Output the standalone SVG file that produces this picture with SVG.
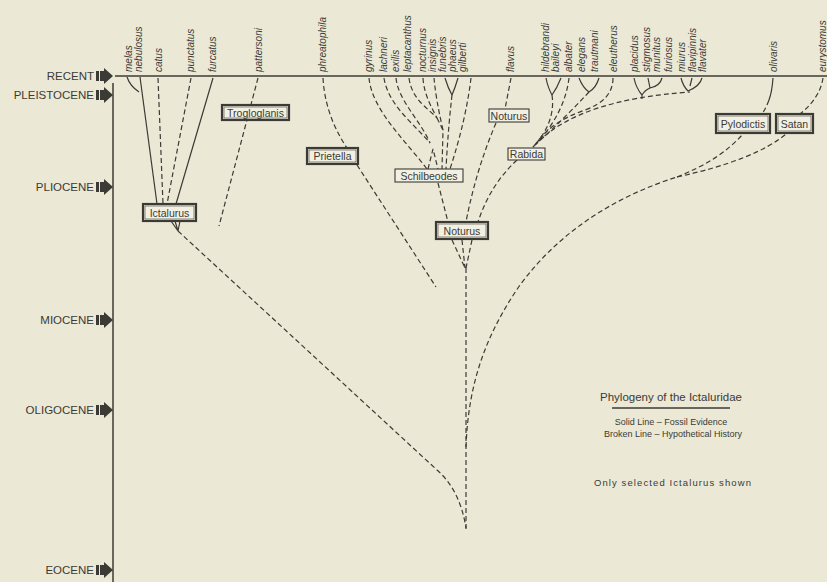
<svg xmlns="http://www.w3.org/2000/svg" width="827" height="582" viewBox="0 0 827 582">
<style>
.ink{fill:#3c3a35}
.era{font-family:"Liberation Sans",Arial,sans-serif;font-size:11.5px;fill:#3c3a35;text-anchor:end}
.sp{font-family:"Liberation Sans",Arial,sans-serif;font-size:10px;font-style:italic;fill:#3c3a35}
.s{fill:none;stroke:#3c3a35;stroke-width:1.2}
.d{fill:none;stroke:#3c3a35;stroke-width:1.2;stroke-dasharray:5 3}
.bx{fill:#f2f0e2;stroke:#3c3a35;stroke-width:2.2}
.bxi{fill:none;stroke:#3c3a35;stroke-width:0.6}
.bs{fill:#f2f0e2;stroke:#3c3a35;stroke-width:1.1}
.lbl{font-family:"Liberation Sans",Arial,sans-serif;font-size:10.5px;fill:#3c3a35;text-anchor:middle;dominant-baseline:central}
.leg{font-family:"Liberation Sans",Arial,sans-serif;fill:#3c3a35;text-anchor:middle}
</style>
<defs>
<g id="arr" class="ink"><rect x="-17" y="-5" width="3" height="10"/><polygon points="-13,-5 -9,-5 -9,-8 0,0 -9,8 -9,5 -13,5"/></g>
</defs>
<rect width="827" height="582" fill="#ebe9d6"/>

<g id="timescale">
<line x1="113" y1="83" x2="113" y2="582" stroke="#3c3a35" stroke-width="1.5"/>
<line x1="115" y1="76" x2="827" y2="76" stroke="#3c3a35" stroke-width="1.5"/>
<use href="#arr" transform="translate(113,76)"/>
<use href="#arr" transform="translate(113,95)"/>
<use href="#arr" transform="translate(113,187)"/>
<use href="#arr" transform="translate(113,320)"/>
<use href="#arr" transform="translate(113,410)"/>
<use href="#arr" transform="translate(113,570)"/>
<text class="era" x="94" y="80">RECENT</text>
<text class="era" x="94" y="99">PLEISTOCENE</text>
<text class="era" x="94" y="191">PLIOCENE</text>
<text class="era" x="94" y="324">MIOCENE</text>
<text class="era" x="94" y="414">OLIGOCENE</text>
<text class="era" x="94" y="574">EOCENE</text>
</g>

<g id="species">
<text class="sp" transform="translate(131.5,72) rotate(-90)">melas</text>
<text class="sp" transform="translate(141.5,72) rotate(-90)">nebulosus</text>
<text class="sp" transform="translate(161.5,72) rotate(-90)">catus</text>
<text class="sp" transform="translate(193.5,72) rotate(-90)">punctatus</text>
<text class="sp" transform="translate(215.5,72) rotate(-90)">furcatus</text>
<text class="sp" transform="translate(261.5,72) rotate(-90)">pattersoni</text>
<text class="sp" transform="translate(325.5,72) rotate(-90)">phreatophila</text>
<text class="sp" transform="translate(371.5,72) rotate(-90)">gyrinus</text>
<text class="sp" transform="translate(386.5,72) rotate(-90)">lachneri</text>
<text class="sp" transform="translate(398.5,72) rotate(-90)">exilis</text>
<text class="sp" transform="translate(410.5,72) rotate(-90)">leptacanthus</text>
<text class="sp" transform="translate(425.5,72) rotate(-90)">nocturnus</text>
<text class="sp" transform="translate(435.5,72) rotate(-90)">insignis</text>
<text class="sp" transform="translate(445.5,72) rotate(-90)">funebris</text>
<text class="sp" transform="translate(455.5,72) rotate(-90)">phaeus</text>
<text class="sp" transform="translate(465.5,72) rotate(-90)">gilberti</text>
<text class="sp" transform="translate(513.5,72) rotate(-90)">flavus</text>
<text class="sp" transform="translate(548.5,72) rotate(-90)">hildebrandi</text>
<text class="sp" transform="translate(558.5,72) rotate(-90)">baileyi</text>
<text class="sp" transform="translate(571.5,72) rotate(-90)">albater</text>
<text class="sp" transform="translate(584.5,72) rotate(-90)">elegans</text>
<text class="sp" transform="translate(597.5,72) rotate(-90)">trautmani</text>
<text class="sp" transform="translate(616.5,72) rotate(-90)">eleutherus</text>
<text class="sp" transform="translate(637.5,72) rotate(-90)">placidus</text>
<text class="sp" transform="translate(649.5,72) rotate(-90)">stigmosus</text>
<text class="sp" transform="translate(659.5,72) rotate(-90)">munitus</text>
<text class="sp" transform="translate(671.5,72) rotate(-90)">furiosus</text>
<text class="sp" transform="translate(684.5,72) rotate(-90)">miurus</text>
<text class="sp" transform="translate(695.5,72) rotate(-90)">flavipinnis</text>
<text class="sp" transform="translate(705.5,72) rotate(-90)">flavater</text>
<text class="sp" transform="translate(776.5,72) rotate(-90)">olivaris</text>
<text class="sp" transform="translate(826,72) rotate(-90)">eurystomus</text>
</g>

<g id="connectors">
<!-- Ictalurus -->
<path class="s" d="M127 77 Q130 86 139 92"/>
<path class="s" d="M140 77 L157 204"/>
<path class="d" d="M158 78 L163 204"/>
<path class="d" d="M191 78 L167 204"/>
<path class="s" d="M213 78 L176 204"/>
<path class="s" d="M171 221 L178 231 M175 221 L178 231 M180 221 L178 231"/>
<path class="d" d="M178 231 L437 470 Q460 490 466 528"/>
<!-- Trogloglanis -->
<path class="d" d="M258 78 L219 226"/>
<!-- Prietella -->
<path class="d" d="M323 78 Q325 115 347 148"/>
<path class="d" d="M357 165 L436 287"/>
<!-- Schilbeodes -->
<path class="d" d="M369 78 C372 110 405 140 427 169"/>
<path class="d" d="M384 78 C388 105 415 125 430 143"/>
<path class="d" d="M396 78 C398 100 420 120 430 143"/>
<path class="d" d="M428 169 L433 149 L438 169"/>
<path class="d" d="M409 78 C412 100 428 108 437 118"/>
<path class="d" d="M423 78 C424 95 432 108 437 118"/>
<path class="d" d="M437 118 L443 130"/>
<path class="d" d="M434 78 Q436 100 443 130 L442 169"/>
<path class="s" d="M445 78 Q448 88 452 95 M458 78 Q455 88 452 95"/>
<path class="d" d="M452 95 Q448 130 446 169"/>
<path class="d" d="M471 78 Q466 120 450 169"/>
<path class="d" d="M438 183 L448 222"/>
<!-- Noturus / flavus -->
<path class="d" d="M511 78 L505 109"/>
<path class="d" d="M496 123 Q476 170 466 222"/>
<!-- Rabida -->
<path class="d" d="M517 160 Q490 185 478 222"/>
<path class="s" d="M546 78 Q548 88 552 95 M561 78 Q557 88 552 95"/>
<path class="d" d="M552 95 Q556 122 533 147"/>
<path class="d" d="M569 78 Q565 112 537 143"/>
<path class="s" d="M579 78 Q583 88 589 92 M599 78 Q596 88 589 92"/>
<path class="d" d="M589 92 Q565 118 535 145"/>
<path class="d" d="M613 78 Q613 100 585 110 Q550 122 535 145"/>
<path class="d" d="M533 147 C565 112 620 97 690 92"/>
<path class="s" d="M634 78 Q636 88 642 95 M662 78 Q660 86 650 88 Q645 90 642 95 M648 78 L650 88 M642 95 L642 99"/>
<path class="s" d="M681 78 Q683 86 688 91 M692 78 L690 86 M702 78 Q700 86 688 91"/>
<!-- Noturus trunk -->
<path class="d" d="M452 240 L465 268 M462 240 L465 268 M472 240 L466 268"/>
<path class="d" d="M466 268 L466 530"/>
<!-- Pylodictis / Satan -->
<path class="s" d="M773 78 Q772 92 769 100"/>
<path class="d" d="M769 100 Q766 108 762 114"/>
<path class="d" d="M823 78 Q820 98 800 114"/>
<path class="d" d="M466 447 C468 390 482 340 520 285 C562 228 620 195 677 177"/>
<path class="d" d="M677 177 Q720 160 743 134"/>
<path class="d" d="M677 177 Q755 160 786 134"/>
</g>

<g id="Ictalurus"><rect class="bx" x="143" y="204" width="53" height="17"/><rect class="bxi" x="145" y="206" width="49" height="13"/><text class="lbl" x="169.5" y="212.5">Ictalurus</text></g>
<g id="Trogloglanis"><rect class="bx" x="222" y="105" width="67" height="15"/><rect class="bxi" x="224" y="107" width="63" height="11"/><text class="lbl" x="255.5" y="112.5">Trogloglanis</text></g>
<g id="Prietella"><rect class="bx" x="307" y="148" width="51" height="16"/><rect class="bxi" x="309" y="150" width="47" height="12"/><text class="lbl" x="332.5" y="156">Prietella</text></g>
<g id="Schilbeodes"><rect class="bs" x="395" y="169" width="68" height="13"/><text class="lbl" x="429" y="175.5">Schilbeodes</text></g>
<g id="Noturus-sub"><rect class="bs" x="489" y="109" width="40" height="13"/><text class="lbl" x="509" y="115.5">Noturus</text></g>
<g id="Rabida"><rect class="bs" x="508" y="148" width="37" height="12"/><text class="lbl" x="526.5" y="154">Rabida</text></g>
<g id="Noturus"><rect class="bx" x="436" y="222" width="52" height="17"/><rect class="bxi" x="438" y="224" width="48" height="13"/><text class="lbl" x="462" y="230.5" font-size="11.5">Noturus</text></g>
<g id="Pylodictis"><rect class="bx" x="716" y="114" width="54" height="19"/><rect class="bxi" x="718" y="116" width="50" height="15"/><text class="lbl" x="743" y="123.5" font-size="11.5">Pylodictis</text></g>
<g id="Satan"><rect class="bx" x="776" y="114" width="37" height="19"/><rect class="bxi" x="778" y="116" width="33" height="15"/><text class="lbl" x="794.5" y="123.5" font-size="11.5">Satan</text></g>

<g id="legend">
<text class="leg" x="671" y="401" font-size="11.5">Phylogeny of the Ictaluridae</text>
<line x1="612" y1="408" x2="730" y2="408" stroke="#3c3a35" stroke-width="1.6"/>
<text class="leg" x="671" y="425" font-size="9">Solid  Line – Fossil Evidence</text>
<text class="leg" x="673" y="437" font-size="9">Broken Line – Hypothetical History</text>
<text class="leg" x="673" y="486" font-size="9.5" letter-spacing="1.1">Only selected Ictalurus shown</text>
</g>
</svg>
